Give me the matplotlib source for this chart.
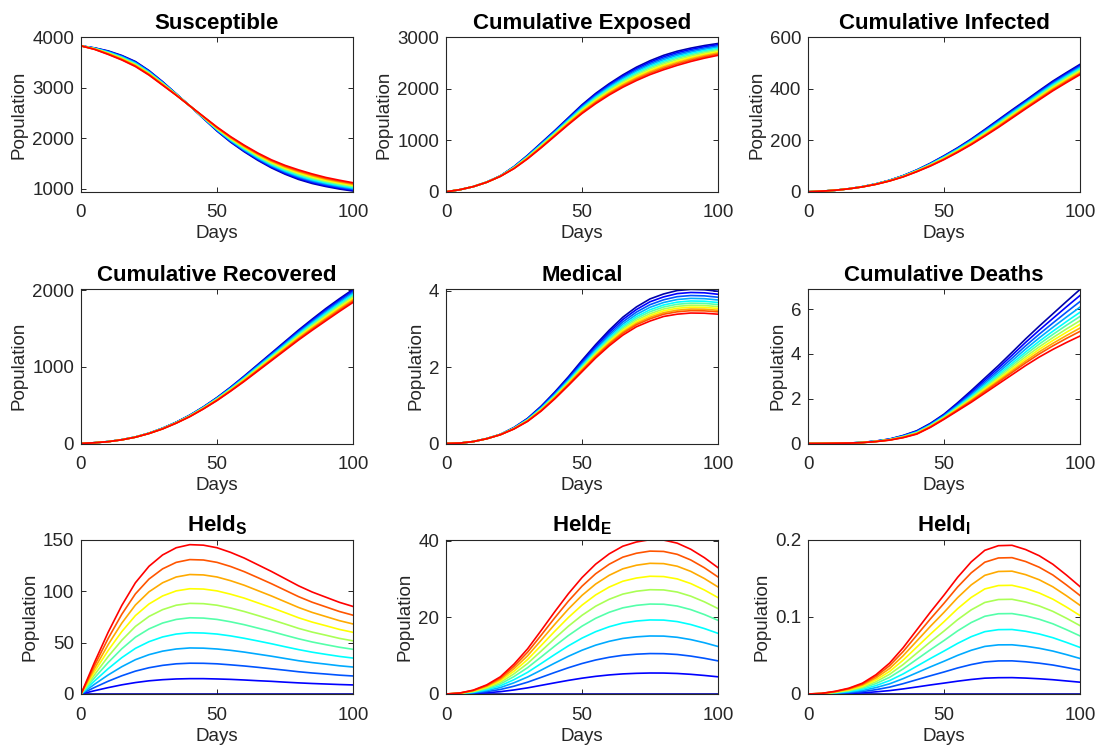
import matplotlib
matplotlib.use("Agg")
import matplotlib.pyplot as plt
from matplotlib.ticker import FuncFormatter

plt.rcParams['font.family'] = ['Liberation Sans', 'DejaVu Sans']
plt.rcParams['mathtext.fontset'] = 'custom'
plt.rcParams['mathtext.rm'] = 'Liberation Sans'
plt.rcParams['mathtext.bf'] = 'Liberation Sans:bold'

#################################
##            Data            ##
#################################

days = [0, 5, 10, 15, 20, 25, 30, 35, 40, 45, 50,
        55, 60, 65, 70, 75, 80, 85, 90, 95, 100]

# one row per run, first row = dark blue, last row = red
susceptible = [
    [3830, 3790, 3730, 3640, 3520, 3340, 3120, 2880, 2640, 2390, 2140, 1920, 1730, 1560, 1410, 1285, 1180, 1100, 1040, 990, 950],
    [3830, 3787, 3723, 3631, 3510, 3331, 3113, 2877, 2640, 2394, 2148, 1931, 1743, 1575, 1426, 1303, 1199, 1119, 1058, 1008, 967],
    [3830, 3784, 3716, 3622, 3500, 3322, 3106, 2874, 2640, 2398, 2156, 1942, 1756, 1589, 1442, 1320, 1218, 1138, 1076, 1025, 983],
    [3830, 3781, 3709, 3613, 3490, 3313, 3099, 2871, 2640, 2402, 2164, 1953, 1769, 1604, 1458, 1338, 1237, 1157, 1094, 1043, 1000],
    [3830, 3778, 3702, 3604, 3480, 3304, 3092, 2868, 2640, 2406, 2172, 1964, 1782, 1618, 1474, 1355, 1256, 1176, 1112, 1060, 1016],
    [3830, 3775, 3695, 3595, 3470, 3295, 3085, 2865, 2640, 2410, 2180, 1975, 1795, 1633, 1490, 1373, 1275, 1195, 1130, 1078, 1033],
    [3830, 3772, 3688, 3586, 3460, 3286, 3078, 2862, 2640, 2414, 2188, 1986, 1808, 1647, 1506, 1390, 1294, 1214, 1148, 1095, 1049],
    [3830, 3769, 3681, 3577, 3450, 3277, 3071, 2859, 2640, 2418, 2196, 1997, 1821, 1662, 1522, 1408, 1313, 1233, 1166, 1113, 1066],
    [3830, 3766, 3674, 3568, 3440, 3268, 3064, 2856, 2640, 2422, 2204, 2008, 1834, 1676, 1538, 1425, 1332, 1252, 1184, 1130, 1082],
    [3830, 3763, 3667, 3559, 3430, 3259, 3057, 2853, 2640, 2426, 2212, 2019, 1847, 1691, 1554, 1443, 1351, 1271, 1202, 1148, 1099],
    [3830, 3760, 3660, 3550, 3420, 3250, 3050, 2850, 2640, 2430, 2220, 2030, 1860, 1705, 1570, 1460, 1370, 1290, 1220, 1165, 1115],
]

cum_exposed = [
    [0, 40, 100, 190, 310, 490, 710, 950, 1190, 1440, 1690, 1910, 2100, 2270, 2420, 2545, 2650, 2730, 2790, 2840, 2880],
    [0, 40, 100, 190, 309, 486, 703, 941, 1179, 1427, 1673, 1890, 2078, 2246, 2394, 2518, 2622, 2703, 2764, 2816, 2857],
    [0, 40, 100, 189, 308, 482, 696, 931, 1168, 1413, 1656, 1870, 2056, 2222, 2368, 2491, 2594, 2675, 2738, 2791, 2834],
    [0, 40, 100, 189, 307, 478, 689, 922, 1157, 1400, 1639, 1850, 2034, 2198, 2342, 2464, 2566, 2648, 2712, 2767, 2811],
    [0, 40, 100, 188, 306, 474, 682, 912, 1146, 1386, 1622, 1830, 2012, 2174, 2316, 2437, 2538, 2620, 2686, 2742, 2788],
    [0, 40, 100, 188, 305, 470, 675, 903, 1135, 1373, 1605, 1810, 1990, 2150, 2290, 2410, 2510, 2593, 2660, 2718, 2765],
    [0, 40, 100, 187, 304, 466, 668, 893, 1124, 1359, 1588, 1790, 1968, 2126, 2264, 2383, 2482, 2565, 2634, 2693, 2742],
    [0, 40, 100, 187, 303, 462, 661, 884, 1113, 1346, 1571, 1770, 1946, 2102, 2238, 2356, 2454, 2538, 2608, 2669, 2719],
    [0, 40, 100, 186, 302, 458, 654, 874, 1102, 1332, 1554, 1750, 1924, 2078, 2212, 2329, 2426, 2510, 2582, 2644, 2696],
    [0, 40, 100, 186, 301, 454, 647, 865, 1091, 1319, 1537, 1730, 1902, 2054, 2186, 2302, 2398, 2483, 2556, 2620, 2673],
    [0, 40, 100, 185, 300, 450, 640, 855, 1080, 1305, 1520, 1710, 1880, 2030, 2160, 2275, 2370, 2455, 2530, 2595, 2650],
]

cum_infected = [
    [0, 2.5, 6, 12.0, 20.0, 31.0, 45.0, 63.0, 85.0, 111.0, 140.0, 171.0, 205.0, 242.0, 280, 318.0, 355.0, 393.0, 430.0, 463.0, 495],
    [0, 2.5, 6, 12.0, 19.9, 30.8, 44.7, 62.5, 84.3, 109.9, 138.5, 169.2, 202.8, 239.4, 277, 314.8, 351.7, 389.4, 426.2, 459.1, 491],
    [0, 2.5, 6, 11.9, 19.8, 30.6, 44.4, 62.0, 83.6, 108.8, 137.0, 167.4, 200.6, 236.8, 274, 311.6, 348.4, 385.8, 422.4, 455.2, 487],
    [0, 2.5, 6, 11.9, 19.7, 30.4, 44.1, 61.5, 82.9, 107.7, 135.5, 165.6, 198.4, 234.2, 271, 308.4, 345.1, 382.2, 418.6, 451.3, 483],
    [0, 2.5, 6, 11.8, 19.6, 30.2, 43.8, 61.0, 82.2, 106.6, 134.0, 163.8, 196.2, 231.6, 268, 305.2, 341.8, 378.6, 414.8, 447.4, 479],
    [0, 2.5, 6, 11.8, 19.5, 30.0, 43.5, 60.5, 81.5, 105.5, 132.5, 162.0, 194.0, 229.0, 265, 302.0, 338.5, 375.0, 411.0, 443.5, 475],
    [0, 2.5, 6, 11.7, 19.4, 29.8, 43.2, 60.0, 80.8, 104.4, 131.0, 160.2, 191.8, 226.4, 262, 298.8, 335.2, 371.4, 407.2, 439.6, 471],
    [0, 2.5, 6, 11.7, 19.3, 29.6, 42.9, 59.5, 80.1, 103.3, 129.5, 158.4, 189.6, 223.8, 259, 295.6, 331.9, 367.8, 403.4, 435.7, 467],
    [0, 2.5, 6, 11.6, 19.2, 29.4, 42.6, 59.0, 79.4, 102.2, 128.0, 156.6, 187.4, 221.2, 256, 292.4, 328.6, 364.2, 399.6, 431.8, 463],
    [0, 2.5, 6, 11.6, 19.1, 29.2, 42.3, 58.5, 78.7, 101.1, 126.5, 154.8, 185.2, 218.6, 253, 289.2, 325.3, 360.6, 395.8, 427.9, 459],
    [0, 2.5, 6, 11.5, 19.0, 29.0, 42.0, 58.0, 78.0, 100.0, 125.0, 153.0, 183.0, 216.0, 250, 286.0, 322.0, 357.0, 392.0, 424.0, 455],
]

cum_recovered = [
    [0, 10, 25, 50, 85, 135, 200, 278, 370, 478, 600, 735, 880, 1030, 1180, 1330, 1480, 1622, 1760, 1888, 2010],
    [0, 10, 25, 50, 85, 135, 199, 277, 368, 475, 596, 730, 873, 1022, 1170, 1319, 1467, 1608, 1744, 1871, 1993],
    [0, 10, 25, 50, 84, 134, 198, 275, 366, 472, 592, 724, 866, 1013, 1160, 1307, 1454, 1593, 1728, 1855, 1976],
    [0, 10, 25, 49, 84, 134, 197, 274, 364, 470, 588, 719, 859, 1005, 1150, 1296, 1441, 1579, 1712, 1838, 1959],
    [0, 10, 25, 49, 84, 133, 196, 273, 362, 467, 584, 714, 852, 996, 1140, 1284, 1428, 1564, 1696, 1822, 1942],
    [0, 10, 25, 49, 84, 133, 195, 272, 360, 464, 580, 709, 845, 988, 1130, 1273, 1415, 1550, 1680, 1805, 1925],
    [0, 10, 24, 49, 83, 132, 194, 270, 358, 461, 576, 703, 838, 979, 1120, 1261, 1402, 1535, 1664, 1788, 1908],
    [0, 10, 24, 49, 83, 132, 193, 269, 356, 458, 572, 698, 831, 971, 1110, 1250, 1389, 1521, 1648, 1772, 1891],
    [0, 10, 24, 48, 83, 131, 192, 268, 354, 456, 568, 693, 824, 962, 1100, 1238, 1376, 1506, 1632, 1755, 1874],
    [0, 10, 24, 48, 82, 131, 191, 266, 352, 453, 564, 687, 817, 954, 1090, 1227, 1363, 1492, 1616, 1739, 1857],
    [0, 10, 24, 48, 82, 130, 190, 265, 350, 450, 560, 682, 810, 945, 1080, 1215, 1350, 1477, 1600, 1722, 1840],
]

medical = [
    [0, .01, .05, .130, .240, .420, .660, .980, 1.350, 1.750, 2.180, 2.590, 2.970, 3.310, 3.580, 3.790, 3.920, 4.010, 4.040, 4.030, 3.990],
    [0, .01, .05, .129, .239, .415, .650, .963, 1.327, 1.720, 2.141, 2.545, 2.917, 3.249, 3.512, 3.715, 3.843, 3.929, 3.959, 3.950, 3.912],
    [0, .01, .05, .129, .237, .410, .639, .946, 1.303, 1.690, 2.102, 2.499, 2.863, 3.188, 3.445, 3.639, 3.767, 3.849, 3.879, 3.870, 3.834],
    [0, .01, .05, .128, .236, .405, .630, .931, 1.282, 1.663, 2.066, 2.457, 2.814, 3.131, 3.382, 3.570, 3.696, 3.774, 3.804, 3.796, 3.762],
    [0, .01, .05, .128, .235, .400, .621, .916, 1.262, 1.637, 2.033, 2.419, 2.769, 3.080, 3.325, 3.506, 3.631, 3.706, 3.736, 3.729, 3.696],
    [0, .01, .05, .127, .234, .397, .614, .905, 1.246, 1.617, 2.006, 2.387, 2.732, 3.037, 3.278, 3.454, 3.578, 3.650, 3.680, 3.673, 3.642],
    [0, .01, .05, .127, .233, .393, .606, .893, 1.229, 1.596, 1.979, 2.356, 2.695, 2.995, 3.232, 3.401, 3.525, 3.595, 3.625, 3.618, 3.588],
    [0, .01, .05, .126, .233, .390, .600, .883, 1.215, 1.578, 1.955, 2.328, 2.663, 2.958, 3.190, 3.355, 3.478, 3.545, 3.575, 3.569, 3.540],
    [0, .01, .05, .126, .232, .387, .594, .872, 1.201, 1.559, 1.931, 2.300, 2.630, 2.920, 3.148, 3.309, 3.430, 3.495, 3.525, 3.520, 3.492],
    [0, .01, .05, .126, .231, .384, .588, .863, 1.188, 1.543, 1.910, 2.275, 2.601, 2.887, 3.112, 3.268, 3.389, 3.452, 3.482, 3.477, 3.450],
    [0, .01, .05, .125, .230, .380, .580, .850, 1.170, 1.520, 1.880, 2.240, 2.560, 2.840, 3.060, 3.210, 3.330, 3.390, 3.420, 3.415, 3.390],
]

cum_deaths = [
    [0, .003, .01, .020, .050, .110, .200, .360, .570, .900, 1.310, 1.820, 2.360, 2.920, 3.480, 4.070, 4.670, 5.240, 5.790, 6.340, 6.880],
    [0, .003, .01, .020, .049, .107, .194, .347, .551, .877, 1.280, 1.773, 2.292, 2.833, 3.373, 3.940, 4.515, 5.061, 5.583, 6.102, 6.610],
    [0, .003, .01, .020, .047, .104, .187, .334, .531, .853, 1.250, 1.726, 2.225, 2.746, 3.267, 3.810, 4.361, 4.881, 5.377, 5.864, 6.339],
    [0, .003, .01, .019, .046, .101, .181, .322, .513, .832, 1.223, 1.683, 2.162, 2.665, 3.168, 3.690, 4.218, 4.716, 5.186, 5.645, 6.090],
    [0, .003, .01, .019, .045, .098, .176, .311, .497, .812, 1.197, 1.644, 2.105, 2.592, 3.078, 3.580, 4.087, 4.564, 5.011, 5.443, 5.861],
    [0, .003, .01, .019, .044, .096, .171, .302, .483, .796, 1.177, 1.611, 2.058, 2.531, 3.004, 3.490, 3.980, 4.440, 4.868, 5.279, 5.674],
    [0, .003, .01, .019, .043, .093, .167, .293, .470, .779, 1.156, 1.579, 2.012, 2.471, 2.931, 3.400, 3.873, 4.315, 4.725, 5.114, 5.486],
    [0, .003, .01, .019, .043, .091, .163, .285, .458, .765, 1.138, 1.550, 1.970, 2.418, 2.865, 3.320, 3.778, 4.205, 4.598, 4.968, 5.320],
    [0, .003, .01, .018, .042, .089, .159, .277, .446, .751, 1.119, 1.521, 1.928, 2.364, 2.799, 3.240, 3.682, 4.095, 4.470, 4.821, 5.154],
    [0, .003, .01, .018, .041, .088, .155, .270, .435, .738, 1.103, 1.496, 1.892, 2.317, 2.742, 3.170, 3.599, 3.998, 4.359, 4.693, 5.008],
    [0, .003, .01, .018, .040, .085, .150, .260, .420, .720, 1.080, 1.460, 1.840, 2.250, 2.660, 3.070, 3.480, 3.860, 4.200, 4.510, 4.800],
]

held_s = [
    [0, 0, 0, 0, 0, 0, 0, 0, 0, 0, 0, 0, 0, 0, 0, 0, 0, 0, 0, 0, 0],
    [0, 3.2, 6.2, 8.9, 11.1, 12.8, 13.9, 14.6, 14.9, 14.9, 14.6, 14.2, 13.6, 12.9, 12.3, 11.5, 10.8, 10.2, 9.7, 9.2, 8.8],
    [0, 6.4, 12.4, 17.7, 22.2, 25.5, 27.8, 29.3, 29.9, 29.8, 29.3, 28.3, 27.2, 25.9, 24.5, 23.1, 21.6, 20.4, 19.4, 18.3, 17.5],
    [0, 9.5, 18.5, 26.5, 33.3, 38.2, 41.6, 43.7, 44.7, 44.5, 43.7, 42.4, 40.7, 38.7, 36.7, 34.5, 32.3, 30.5, 29.0, 27.4, 26.2],
    [0, 12.7, 24.6, 35.3, 44.3, 50.8, 55.4, 58.2, 59.5, 59.2, 58.2, 56.4, 54.1, 51.5, 48.8, 45.9, 43.1, 40.6, 38.5, 36.5, 34.9],
    [0, 15.8, 30.6, 43.9, 55.1, 63.2, 68.9, 72.4, 74.0, 73.7, 72.4, 70.1, 67.3, 64.0, 60.7, 57.1, 53.6, 50.5, 47.9, 45.4, 43.4],
    [0, 18.8, 36.4, 52.2, 65.6, 75.3, 81.9, 86.2, 88.0, 87.7, 86.2, 83.5, 80.1, 76.2, 72.2, 68.0, 63.7, 60.1, 57.1, 54.0, 51.6],
    [0, 21.9, 42.3, 60.6, 76.1, 87.4, 95.2, 100.1, 102.2, 101.9, 100.1, 96.9, 93.1, 88.5, 83.9, 79.0, 74.0, 69.8, 66.3, 62.7, 59.9],
    [0, 24.8, 48.0, 68.8, 86.4, 99.2, 108.0, 113.6, 116.0, 115.6, 113.6, 110.0, 105.6, 100.4, 95.2, 89.6, 84.0, 79.2, 75.2, 71.2, 68.0],
    [0, 27.9, 54.0, 77.4, 97.2, 111.6, 121.5, 127.8, 130.5, 130.1, 127.8, 123.8, 118.8, 113.0, 107.1, 100.8, 94.5, 89.1, 84.6, 80.1, 76.5],
    [0, 31.0, 60.0, 86.0, 108.0, 124.0, 135.0, 142.0, 145.0, 144.5, 142.0, 137.5, 132.0, 125.5, 119.0, 112.0, 105.0, 99.0, 94.0, 89.0, 85.0],
]

held_e = [
    [0, 0, 0, 0, 0, 0, 0, 0, 0, 0, 0, 0, 0, 0, 0, 0, 0, 0, 0, 0, 0],
    [0, .03, .14, .33, .61, 1.06, 1.60, 2.26, 2.92, 3.56, 4.13, 4.61, 4.98, 5.25, 5.40, 5.48, 5.47, 5.36, 5.14, 4.84, 4.49],
    [0, .07, .26, .63, 1.18, 2.04, 3.09, 4.35, 5.63, 6.86, 7.96, 8.88, 9.59, 10.11, 10.40, 10.56, 10.53, 10.32, 9.90, 9.33, 8.65],
    [0, .09, .38, .90, 1.69, 2.93, 4.44, 6.24, 8.08, 9.85, 11.43, 12.75, 13.76, 14.51, 14.93, 15.15, 15.12, 14.81, 14.21, 13.39, 12.41],
    [0, .12, .48, 1.15, 2.16, 3.74, 5.66, 7.97, 10.32, 12.58, 14.59, 16.27, 17.57, 18.53, 19.06, 19.34, 19.30, 18.91, 18.14, 17.09, 15.84],
    [0, .15, .58, 1.40, 2.62, 4.55, 6.88, 9.68, 12.53, 15.27, 17.72, 19.76, 21.34, 22.50, 23.15, 23.49, 23.44, 22.97, 22.04, 20.75, 19.24],
    [0, .17, .68, 1.62, 3.04, 5.27, 7.98, 11.22, 14.53, 17.71, 20.55, 22.92, 24.74, 26.09, 26.84, 27.24, 27.18, 26.63, 25.55, 24.07, 22.31],
    [0, .19, .76, 1.83, 3.43, 5.95, 9.00, 12.67, 16.40, 19.99, 23.20, 25.87, 27.93, 29.45, 30.29, 30.75, 30.67, 30.06, 28.84, 27.16, 25.18],
    [0, .21, .85, 2.03, 3.81, 6.61, 9.99, 14.06, 18.21, 22.19, 25.75, 28.71, 31.00, 32.69, 33.63, 34.13, 34.05, 33.37, 32.02, 30.15, 27.95],
    [0, .23, .93, 2.22, 4.17, 7.22, 10.93, 15.37, 19.91, 24.26, 28.15, 31.39, 33.89, 35.74, 36.76, 37.32, 37.23, 36.48, 35.00, 32.97, 30.56],
    [0, .25, 1.00, 2.40, 4.50, 7.80, 11.80, 16.60, 21.50, 26.20, 30.40, 33.90, 36.60, 38.60, 39.70, 40.30, 40.20, 39.40, 37.80, 35.60, 33.00],
]

held_i = [
    [0, 0, 0, 0, 0, 0, 0, 0, 0, 0, 0, 0, 0, 0, 0, 0, 0, 0, 0, 0, 0],
    [0, .0001, .0004, .0008, .0015, .0028, .0044, .0066, .0091, .0117, .0141, .0166, .0188, .0205, .0211, .0212, .0206, .0197, .0185, .0169, .0153],
    [0, .0002, .0008, .0017, .0031, .0056, .0089, .0134, .0185, .0236, .0285, .0337, .0381, .0415, .0428, .0429, .0417, .0399, .0375, .0343, .0310],
    [0, .0003, .0012, .0025, .0046, .0083, .0132, .0199, .0275, .0351, .0424, .0500, .0566, .0616, .0636, .0637, .0619, .0592, .0556, .0510, .0460],
    [0, .0003, .0015, .0033, .0061, .0109, .0174, .0260, .0360, .0460, .0556, .0655, .0742, .0807, .0833, .0835, .0812, .0777, .0729, .0668, .0603],
    [0, .0004, .0019, .0041, .0076, .0135, .0216, .0325, .0449, .0573, .0692, .0817, .0925, .1006, .1039, .1041, .1012, .0968, .0909, .0833, .0752],
    [0, .0005, .0022, .0048, .0089, .0159, .0255, .0382, .0529, .0675, .0815, .0962, .1089, .1185, .1223, .1226, .1191, .1140, .1070, .0981, .0885],
    [0, .0006, .0026, .0055, .0102, .0183, .0292, .0439, .0607, .0775, .0936, .1104, .1250, .1360, .1404, .1407, .1367, .1308, .1228, .1126, .1016],
    [0, .0007, .0029, .0062, .0116, .0207, .0330, .0496, .0686, .0876, .1057, .1247, .1412, .1536, .1586, .1590, .1545, .1479, .1388, .1272, .1148],
    [0, .0007, .0032, .0069, .0128, .0229, .0367, .0550, .0761, .0972, .1174, .1385, .1568, .1706, .1761, .1765, .1715, .1641, .1541, .1412, .1275],
    [0, .0008, .0035, .0075, .0140, .0250, .0400, .0600, .0830, .1060, .1280, .1510, .1710, .1860, .1920, .1925, .1870, .1790, .1680, .1540, .1390],
]

titles = ["Susceptible", "Cumulative Exposed", "Cumulative Infected",
          "Cumulative Recovered", "Medical", "Cumulative Deaths",
          r"Held$_\mathbf{S}$", r"Held$_\mathbf{E}$", r"Held$_\mathbf{I}$"]

panels = [susceptible, cum_exposed, cum_infected,
          cum_recovered, medical, cum_deaths,
          held_s, held_e, held_i]

yticks = [[1000, 2000, 3000, 4000], [0, 1000, 2000, 3000], [0, 200, 400, 600],
          [0, 1000, 2000], [0, 2, 4], [0, 2, 4, 6],
          [0, 50, 100, 150], [0, 20, 40], [0, 0.1, 0.2]]

ylims = [(935, 4000), (0, 3000), (0, 600),
         (0, 2015), (0, 4.05), (0, 6.9),
         (0, 150), (0, 40.35), (0, 0.2)]

# matlab jet(11)
jet11 = [(0, 0, 0.6667), (0, 0, 1), (0, 0.3333, 1), (0, 0.6667, 1), (0, 1, 1),
         (0.3333, 1, 0.6667), (0.6667, 1, 0.3333), (1, 1, 0), (1, 0.6667, 0),
         (1, 0.3333, 0), (1, 0, 0)]

#################################
##            Plot            ##
#################################

W, H = 1099, 751
fig = plt.figure(figsize=(W / 100, H / 100), dpi=100)

lefts = [81, 446, 808]
tops = [37.3, 289, 539.5]
aw, ah = 272, 154.5
grey = (0.15, 0.15, 0.15)

for i in range(9):
    r, c = divmod(i, 3)
    ax = fig.add_axes([lefts[c] / W, (H - tops[r] - ah) / H, aw / W, ah / H])
    for k, run in enumerate(panels[i]):
        ax.plot(days, run, color=jet11[k], lw=1.2)
    ax.set_xlim(0, 100)
    ax.set_ylim(*ylims[i])
    ax.set_xticks([0, 50, 100])
    ax.set_yticks(yticks[i])
    ax.yaxis.set_major_formatter(FuncFormatter(lambda v, p: "%g" % v))
    ax.tick_params(direction='in', top=True, right=True, length=3.5,
                   width=0.7, colors=grey, labelsize=13.5)
    ax.tick_params(axis='x', pad=9)
    ax.tick_params(axis='y', pad=5)
    for s in ax.spines.values():
        s.set_color(grey)
        s.set_linewidth(0.8)
    ax.set_title(titles[i], fontsize=16, fontweight='bold', pad=6)
    ax.set_xlabel("Days", fontsize=13.5, color=grey, labelpad=3)
    ax.set_ylabel("Population", fontsize=13.5, color=grey, labelpad=3)

fig.savefig("out.png", dpi=100)
